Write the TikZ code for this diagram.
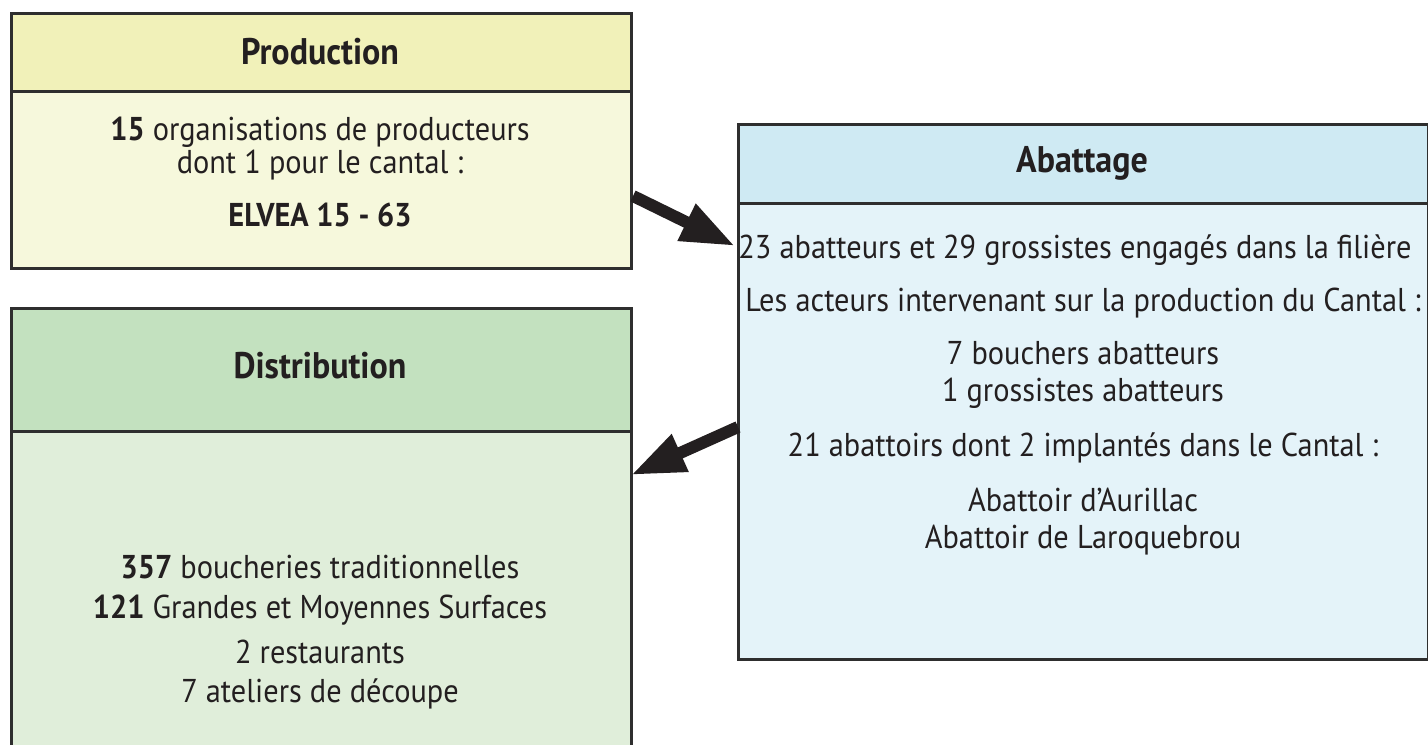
\documentclass[tikz,border=0pt]{standalone}
\usepackage{fontspec}
\setmainfont[FakeStretch=0.92]{PT Sans}
\usetikzlibrary{arrows.meta}
\definecolor{prodH}{HTML}{F1F1B9}
\definecolor{prodB}{HTML}{F6F8DC}
\definecolor{distH}{HTML}{C3E1BF}
\definecolor{distB}{HTML}{E0EEDA}
\definecolor{abatH}{HTML}{CFEAF3}
\definecolor{abatB}{HTML}{E4F3F9}
\definecolor{edge}{HTML}{2E2E2E}
\definecolor{ink}{HTML}{231F20}
\tikzset{
  panel/.style={draw=edge, line width=1.3pt, anchor=north west, inner sep=0pt, minimum width=310pt},
  txt/.style={text=ink, font=\fontsize{16.5}{18}\selectfont, inner sep=0pt},
  ttl/.style={text=ink, font=\fontsize{18.5}{20}\selectfont\bfseries, inner sep=0pt},
  bigarrow/.style={draw=ink, line width=6pt, -{Triangle[length=27pt,width=19pt]}}
}
\begin{document}
\begin{tikzpicture}[x=0.5pt,y=-0.5pt]
\useasboundingbox (0,0) rectangle (1428,744);
\clip (0,0) rectangle (1428,744);
% Production
\node[panel, fill=prodH, minimum height=39pt] (prodh) at (10,12) {};
\node[panel, fill=prodB, minimum height=88.5pt] (prodb) at (10,90) {};
\node[ttl] (prodt) at (320,52) {Production};
\node[txt] (prod1) at (320,132) {\textbf{15} organisations de producteurs};
\node[txt] (prod2) at (320,165) {dont 1 pour le cantal :};
\node[txt, font=\fontsize{16.5}{18}\selectfont\bfseries] (prod3) at (320,215) {ELVEA 15 - 63};
% Distribution
\node[panel, fill=distH, minimum height=61.5pt] (disth) at (10,307) {};
\node[panel, fill=distB, minimum height=170pt] (distb) at (10,430) {};
\node[ttl] (distt) at (320,366) {Distribution};
\node[txt] (dist1) at (320,567) {\textbf{357} boucheries traditionnelles};
\node[txt] (dist2) at (320,610) {\textbf{121} Grandes et Moyennes Surfaces};
\node[txt] (dist3) at (320,652) {2 restaurants};
\node[txt] (dist4) at (320,694) {7 ateliers de découpe};
% Abattage
\node[panel, fill=abatH, minimum width=345pt, minimum height=39.5pt] (abath) at (737,123) {};
\node[panel, fill=abatB, minimum width=345pt, minimum height=228pt] (abatb) at (737,202) {};
\node[ttl] (abatt) at (1082,163) {Abattage};
\node[txt, anchor=west] (abat1) at (738,250) {23 abatteurs et 29 grossistes engagés dans la filière};
\node[txt] (abat2) at (1083,303) {Les acteurs intervenant sur la production du Cantal :};
\node[txt] (abat3) at (1083,353) {7 bouchers abatteurs};
\node[txt] (abat4) at (1083,393) {1 grossistes abatteurs};
\node[txt] (abat5) at (1083,448) {21 abattoirs dont 2 implantés dans le Cantal :};
\node[txt] (abat6) at (1083,500) {Abattoir d’Aurillac};
\node[txt] (abat7) at (1083,540) {Abattoir de Laroquebrou};
% arrows
\coordinate (a1s) at (633,196);
\coordinate (a1e) at (735,246);
\coordinate (a2s) at (738,427);
\coordinate (a2e) at (631,475);
\draw[bigarrow] (a1s) -- (a1e);
\draw[bigarrow] (a2s) -- (a2e);
\end{tikzpicture}
\end{document}
